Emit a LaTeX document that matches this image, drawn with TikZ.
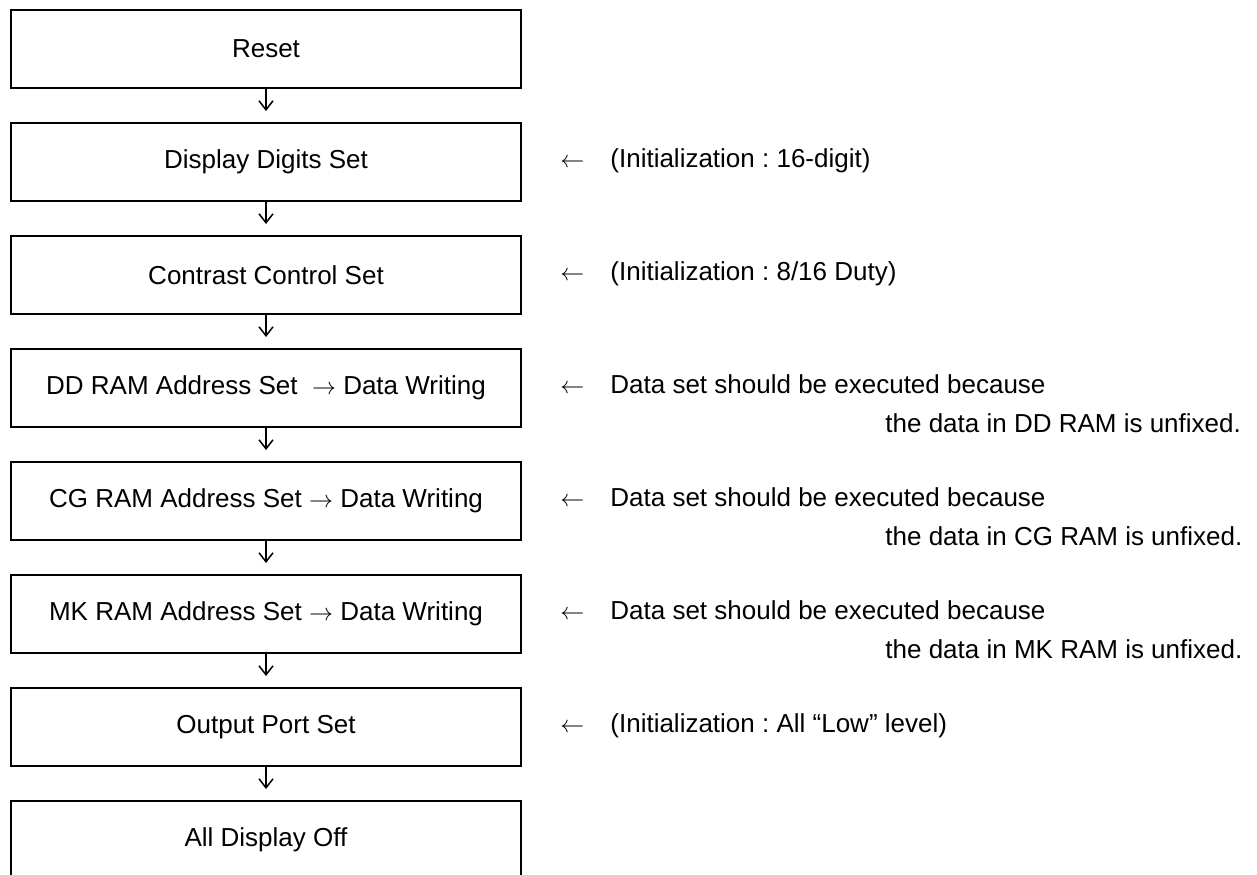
\documentclass[tikz,border=0pt]{standalone}
\usepackage{fontspec}
\setmainfont{Liberation Sans}
\usetikzlibrary{arrows.meta}
\frenchspacing
\begin{document}
\begin{tikzpicture}[x=0.5pt,y=-0.5pt,
  stepbox/.style={draw, line width=1pt, minimum width=255pt, minimum height=39pt, inner sep=0pt, font=\fontsize{13}{15}\selectfont},
  note/.style={anchor=base west, inner sep=0pt, font=\fontsize{13}{15}\selectfont},
  flow/.style={line width=0.75pt, -{Straight Barb[length=4.5pt,width=7pt]}, shorten >=5.5pt}]
\useasboundingbox (0,0) rectangle (1257,874);
% boxes
\node[stepbox] (b1) at (266,49)  {Reset};
\node[stepbox] (b2) at (266,162) {Display Digits Set};
\node[stepbox] (b3) at (266,275) {Contrast Control Set};
\node[stepbox] (b4) at (266,388) {DD RAM Address Set \ $\rightarrow$ Data Writing};
\node[stepbox] (b5) at (266,501) {CG RAM Address Set $\rightarrow$ Data Writing};
\node[stepbox] (b6) at (266,614) {MK RAM Address Set $\rightarrow$ Data Writing};
\node[stepbox] (b7) at (266,727) {Output Port Set};
\node[stepbox] (b8) at (266,840) {All Display Off};
% flow arrows
\draw[flow] (b1.south) -- (b2.north);
\draw[flow] (b2.south) -- (b3.north);
\draw[flow] (b3.south) -- (b4.north);
\draw[flow] (b4.south) -- (b5.north);
\draw[flow] (b5.south) -- (b6.north);
\draw[flow] (b6.south) -- (b7.north);
\draw[flow] (b7.south) -- (b8.north);
% notes
\node[note] (a2) at (560,167) {$\leftarrow$};
\node[note] (n2) at (610,167) {(Initialization : 16-digit)};
\node[note] (a3) at (560,280) {$\leftarrow$};
\node[note] (n3) at (610,280) {(Initialization : 8/16 Duty)};
\node[note] (a4) at (560,393) {$\leftarrow$};
\node[note] (n4) at (610,393) {Data set should be executed because};
\node[note] (m4) at (885,432) {the data in DD RAM is unfixed.};
\node[note] (a5) at (560,506) {$\leftarrow$};
\node[note] (n5) at (610,506) {Data set should be executed because};
\node[note] (m5) at (885,545) {the data in CG RAM is unfixed.};
\node[note] (a6) at (560,619) {$\leftarrow$};
\node[note] (n6) at (610,619) {Data set should be executed because};
\node[note] (m6) at (885,658) {the data in MK RAM is unfixed.};
\node[note] (a7) at (560,732) {$\leftarrow$};
\node[note] (n7) at (610,732) {(Initialization : All “Low” level)};
\end{tikzpicture}
\end{document}
